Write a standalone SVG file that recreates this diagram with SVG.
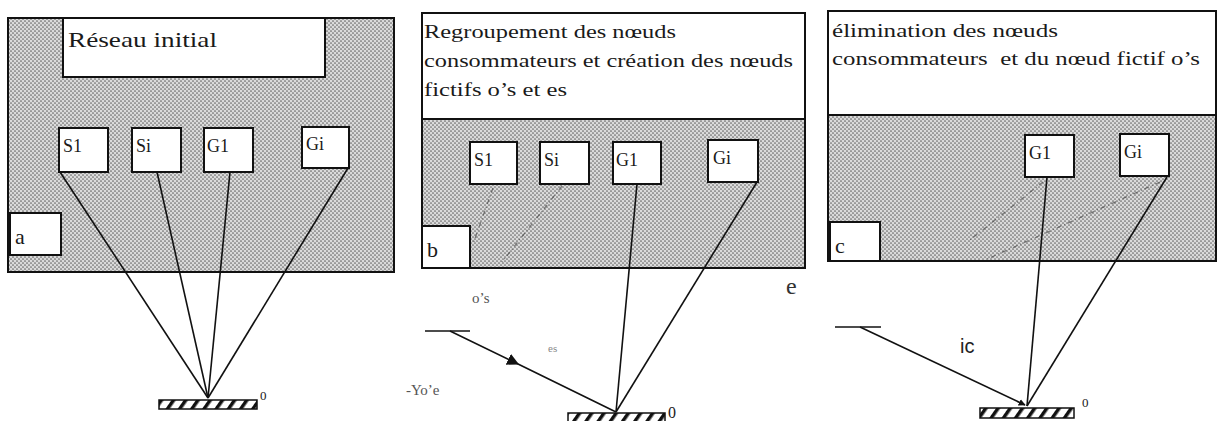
<svg xmlns="http://www.w3.org/2000/svg" width="1222" height="421" viewBox="0 0 1222 421">
<style>
.frame{stroke:#111;stroke-width:2;}
.shade{fill:url(#halftone);}
.white{fill:#fff;}
.node{fill:#fff;stroke:#111;stroke-width:2;}
text{font-family:'Liberation Serif','DejaVu Serif','Times New Roman',serif;fill:#1a1a1a;}
.lbl{font-size:18px;}
.title{font-size:18px;}
.tag{font-size:22px;}
.conn{stroke:#111;stroke-width:1.6;fill:none;}
.dash{stroke:#333;stroke-width:1.3;stroke-dasharray:5 3 1 3;fill:none;opacity:0.55;}
.ground{fill:url(#hatch);stroke:#111;stroke-width:1.5;}
.faint{fill:#555;}
</style>
<defs>
<pattern id="halftone" width="4" height="4" patternUnits="userSpaceOnUse">
<rect width="4" height="4" fill="#dadada"/>
<circle cx="1" cy="1" r="0.85" fill="#666"/>
<circle cx="3" cy="3" r="0.85" fill="#666"/>
</pattern>
<pattern id="hatch" width="10" height="10" patternUnits="userSpaceOnUse" patternTransform="rotate(35)">
<rect width="10" height="10" fill="#fff"/>
<rect width="3.5" height="10" fill="#111"/>
</pattern>
<marker id="arrow" viewBox="0 0 10 10" refX="9" refY="5" markerWidth="7" markerHeight="7" orient="auto" markerUnits="userSpaceOnUse">
<path d="M0,0 L10,5 L0,10 z" fill="#111"/>
</marker>
<marker id="arrowMid" viewBox="0 0 10 10" refX="9" refY="5" markerWidth="12" markerHeight="12" orient="auto" markerUnits="userSpaceOnUse">
<path d="M0,0 L10,5 L0,10 z" fill="#111"/>
</marker>
</defs>

<g font-family="Liberation Serif, DejaVu Serif, serif">
<!-- Panel a -->
<g id="panel-a">
<rect class="shade frame" x="8" y="18" width="386" height="254"/>
<rect class="white frame" x="63" y="18" width="262" height="59"/>
<text x="68" y="47" font-size="22" textLength="149" lengthAdjust="spacingAndGlyphs">Réseau initial</text>
<rect class="white frame" x="10" y="213" width="51" height="42"/>
<text class="tag" x="15" y="244">a</text>
</g>
<g id="a-S1"><rect class="node" x="59" y="128" width="49" height="44"/><text class="lbl" x="63" y="152">S1</text></g>
<g id="a-Si"><rect class="node" x="132" y="128" width="49" height="44"/><text class="lbl" x="136" y="152">Si</text></g>
<g id="a-G1"><rect class="node" x="204" y="128" width="49" height="44"/><text class="lbl" x="207" y="152">G1</text></g>
<g id="a-Gi"><rect class="node" x="302" y="127" width="47" height="41"/><text class="lbl" x="306" y="150">Gi</text></g>
<g id="a-ground"><rect class="ground" x="159" y="400" width="98" height="9"/><text x="260" y="400" font-size="13">0</text></g>

<!-- Panel b -->
<g id="panel-b">
<rect class="shade frame" x="422" y="13" width="383" height="255"/>
<rect class="white frame" x="422" y="13" width="383" height="106"/>
<text class="title" x="424" y="38" textLength="252" lengthAdjust="spacingAndGlyphs">Regroupement des nœuds</text>
<text class="title" x="424" y="67" textLength="369" lengthAdjust="spacingAndGlyphs">consommateurs et création des nœuds</text>
<text class="title" x="424" y="96" textLength="143" lengthAdjust="spacingAndGlyphs">fictifs o’s et es</text>
<rect class="white frame" x="422" y="226" width="48" height="42"/>
<text class="tag" x="427" y="257">b</text>
</g>
<g id="b-S1"><rect class="node" x="470" y="142" width="47" height="42"/><text class="lbl" x="474" y="166">S1</text></g>
<g id="b-Si"><rect class="node" x="540" y="142" width="49" height="42"/><text class="lbl" x="544" y="166">Si</text></g>
<g id="b-G1"><rect class="node" x="613" y="142" width="48" height="42"/><text class="lbl" x="616" y="166">G1</text></g>
<g id="b-Gi"><rect class="node" x="708" y="140" width="50" height="42"/><text class="lbl" x="713" y="164">Gi</text></g>
<g id="b-ground"><rect class="ground" x="568" y="413" width="97" height="10"/><text x="668" y="418" font-size="16">0</text></g>
<g id="b-os"><line class="conn" x1="425" y1="331" x2="470" y2="331"/><text class="faint" x="472" y="303" font-size="15">o’s</text></g>
<g id="b-labels">
<text x="548" y="352" font-size="11" style="fill:#888">es</text>
<text class="faint" x="406" y="395" font-size="15">-Yo’e</text>
<text x="786" y="294" font-size="24" style="fill:#333">e</text>
</g>

<!-- Panel c -->
<g id="panel-c">
<rect class="shade frame" x="828" y="11" width="388" height="250"/>
<rect class="white frame" x="828" y="11" width="388" height="104"/>
<text class="title" x="832" y="37" textLength="226" lengthAdjust="spacingAndGlyphs">élimination des nœuds</text>
<text class="title" x="832" y="65" textLength="368" lengthAdjust="spacingAndGlyphs" xml:space="preserve">consommateurs  et du nœud fictif o’s</text>
<rect class="white frame" x="830" y="222" width="50" height="39"/>
<text class="tag" x="835" y="253">c</text>
</g>
<g id="c-G1"><rect class="node" x="1025" y="135" width="49" height="42"/><text class="lbl" x="1029" y="159">G1</text></g>
<g id="c-Gi"><rect class="node" x="1120" y="134" width="49" height="42"/><text class="lbl" x="1124" y="158">Gi</text></g>
<g id="c-ground"><rect class="ground" x="980" y="408" width="94" height="10"/><text x="1082" y="407" font-size="13">0</text></g>
<g id="c-ic"><line class="conn" x1="835" y1="327" x2="881" y2="327"/><text x="960" y="353" font-size="20" style="font-family:'Liberation Sans',Arial,sans-serif;fill:#222">ic</text></g>
</g>

<!-- Connectors -->
<g id="connectors">
<line class="conn" x1="60" y1="172" x2="208" y2="398"/>
<line class="conn" x1="157" y1="172" x2="208" y2="398"/>
<line class="conn" x1="230" y1="172" x2="208" y2="398"/>
<line class="conn" x1="348" y1="168" x2="208" y2="398"/>

<line class="dash" x1="493" y1="188" x2="473" y2="244"/>
<line class="dash" x1="562" y1="186" x2="502" y2="262"/>
<line class="conn" x1="637" y1="184" x2="616" y2="412"/>
<line class="conn" x1="757" y1="182" x2="616" y2="412"/>
<path class="conn" d="M450,331 L518,364 L616,412" marker-mid="url(#arrowMid)"/>

<line class="dash" x1="1043" y1="182" x2="970" y2="240"/>
<line class="dash" x1="1160" y1="182" x2="985" y2="260"/>
<line class="conn" x1="1047" y1="177" x2="1027" y2="406"/>
<line class="conn" x1="1167" y1="177" x2="1027" y2="406"/>
<line class="conn" x1="860" y1="327" x2="1025" y2="405" marker-end="url(#arrow)"/>
</g>
</svg>
